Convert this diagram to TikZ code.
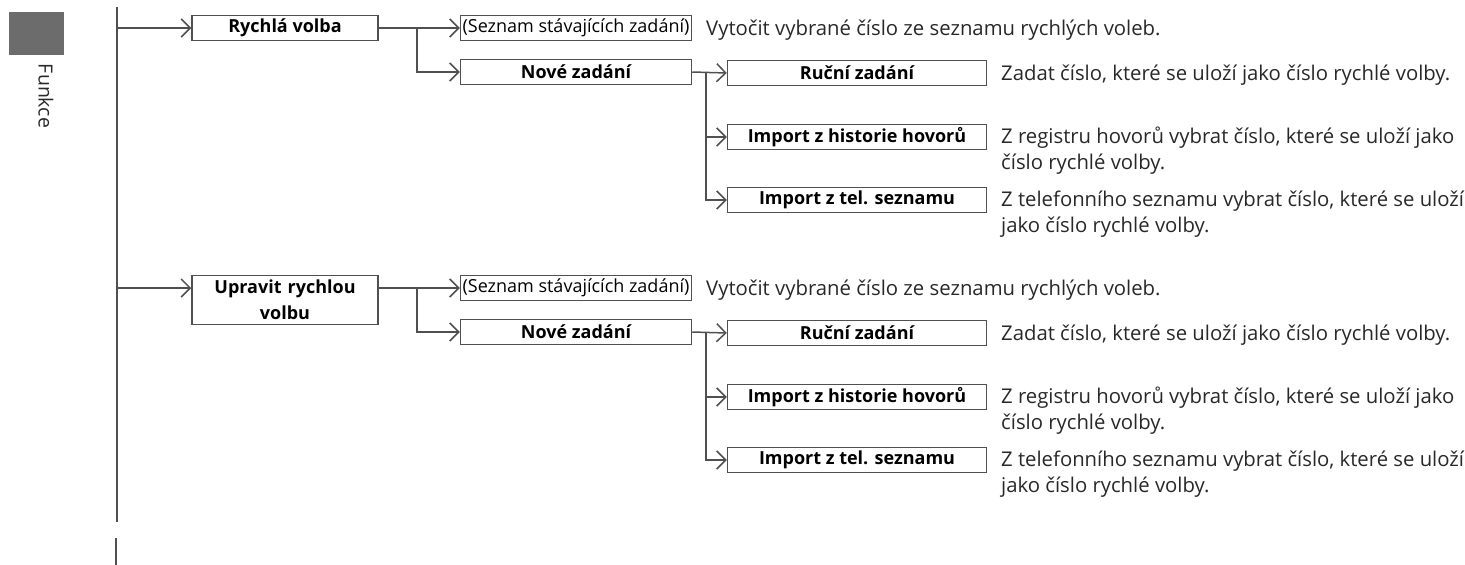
\documentclass[tikz,border=0pt]{standalone}
\usepackage{fontspec}
\setmainfont{Open Sans}
\usetikzlibrary{arrows.meta}
\definecolor{linegray}{RGB}{80,80,80}
\definecolor{tabgray}{RGB}{108,108,108}
\definecolor{textgray}{RGB}{40,40,40}

\begin{document}
\begin{tikzpicture}[x=1pt,y=-1pt,
  box/.style={draw=linegray, line width=1.5pt, minimum height=25pt, inner sep=0pt,
    font=\fontsize{18}{20}\selectfont\bfseries},
  plainbox/.style={box, font=\fontsize{18}{20}\selectfont},
  desc/.style={anchor=base west, align=left, inner sep=0pt, text=textgray,
    font=\fontsize{20.3}{25.5}\selectfont},
  link/.style={draw=linegray, line width=1.5pt},
  arr/.style={link, -{Straight Barb[length=9pt,width=18pt,line width=1.5pt]}}]

\useasboundingbox (0,0) rectangle (1465,565);

% side tab
\fill [tabgray] (9,12) rectangle (64,55);
\node (tab) [rotate=-90, font=\fontsize{19.5}{21}\selectfont, text=textgray] at (46,96) {Funkce};

% spine
\coordinate (top) at (117,7);
\coordinate (bot) at (117,522);
\draw [link] (top) -- (bot);
\coordinate (top2) at (116,538);
\coordinate (bot2) at (116,565);
\draw [link] (top2) -- (bot2);

% first group
\node (rv) [box, minimum width=186pt] at (285,28) {Rychlá volba};
\node (sz1) [plainbox, minimum width=231pt] at (576,28) {(Seznam stávajících zadání)};
\node (nz1) [box, minimum width=231pt] at (576,72) {Nové zadání};
\node (rz1) [box, minimum width=259pt] at (857,73) {Ruční zadání};
\node (ih1) [box, minimum width=259pt] at (857,137) {Import z historie hovorů};
\node (it1) [box, minimum width=259pt] at (857,200) {Import z tel. seznamu};

\node (d11) [desc] at (706,35) {Vytočit vybrané číslo ze seznamu rychlých voleb.};
\node (d12) [desc] at (1001,80) {Zadat číslo, které se uloží jako číslo rychlé volby.};
\node (d13) [desc] at (1001,169) {Z registru hovorů vybrat číslo, které se uloží jako\\číslo rychlé volby.};
\node (d14) [desc] at (1001,232) {Z telefonního seznamu vybrat číslo, které se uloží\\jako číslo rychlé volby.};

\coordinate (s1) at (117,28);
\draw [arr] (s1) -- (rv.west);
\draw [arr] (rv.east) -- (sz1.west);
\coordinate (b1) at (417,28);
\draw [arr] (b1) |- (nz1.west);
\draw [arr] (nz1.east) -- (rz1.west);
\coordinate (c1) at (706,72);
\draw [arr] (c1) |- (ih1.west);
\draw [arr] (c1) |- (it1.west);

% second group
\node (ur) [box, minimum width=186pt, minimum height=49pt, text width=180pt, align=center,
  font=\fontsize{18}{26}\selectfont\bfseries] at (285,300) {Upravit rychlou\\volbu};
\node (sz2) [plainbox, minimum width=231pt] at (576,288) {(Seznam stávajících zadání)};
\node (nz2) [box, minimum width=231pt] at (576,332) {Nové zadání};
\node (rz2) [box, minimum width=259pt] at (857,333) {Ruční zadání};
\node (ih2) [box, minimum width=259pt] at (857,397) {Import z historie hovorů};
\node (it2) [box, minimum width=259pt] at (857,460) {Import z tel. seznamu};

\node (d21) [desc] at (706,295) {Vytočit vybrané číslo ze seznamu rychlých voleb.};
\node (d22) [desc] at (1001,340) {Zadat číslo, které se uloží jako číslo rychlé volby.};
\node (d23) [desc] at (1001,429) {Z registru hovorů vybrat číslo, které se uloží jako\\číslo rychlé volby.};
\node (d24) [desc] at (1001,492) {Z telefonního seznamu vybrat číslo, které se uloží\\jako číslo rychlé volby.};

\coordinate (s2) at (117,288);
\draw [arr] (s2) -- (s2 -| ur.west);
\draw [arr] (ur.east |- sz2) -- (sz2.west);
\coordinate (b2) at (417,288);
\draw [arr] (b2) |- (nz2.west);
\draw [arr] (nz2.east) -- (rz2.west);
\coordinate (c2) at (706,332);
\draw [arr] (c2) |- (ih2.west);
\draw [arr] (c2) |- (it2.west);

\end{tikzpicture}
\end{document}
